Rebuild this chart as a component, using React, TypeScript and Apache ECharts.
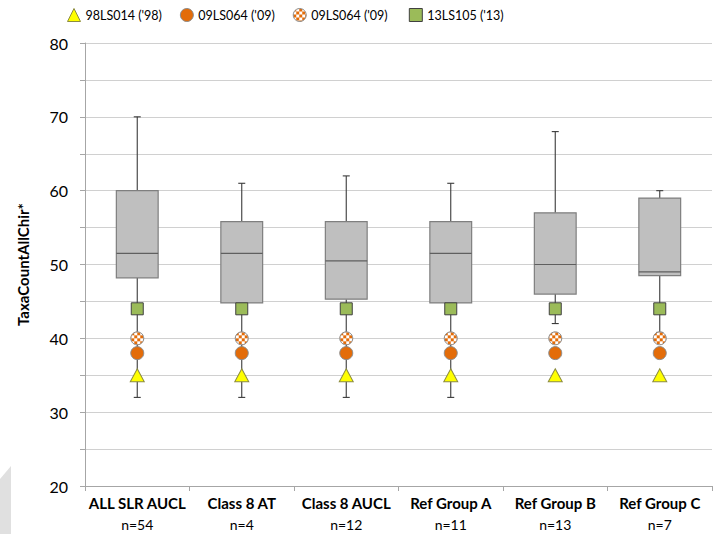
import React, { useEffect, useRef } from "react";
import * as echarts from "echarts";

const categories = ["ALL SLR AUCL", "Class 8 AT", "Class 8 AUCL", "Ref Group A", "Ref Group B", "Ref Group C"];
const counts = ["n=54", "n=4", "n=12", "n=11", "n=13", "n=7"];
const whiskerLow = [32, 32, 32, 32, 42, 40.8];
const q1 = [48.2, 44.8, 45.3, 44.8, 46, 48.5];
const median = [51.5, 51.5, 50.5, 51.5, 50, 49];
const q3 = [60, 55.8, 55.8, 55.8, 57, 59];
const whiskerHigh = [70, 61, 62, 61, 68, 60];
const site98 = [35, 35, 35, 35, 35, 35];
const site09 = [38, 38, 38, 38, 38, 38];
const site09b = [40, 40, 40, 40, 40, 40];
const site13 = [44, 44, 44, 44, 44, 44];
const legendNames = ["98LS014 ('98)", "09LS064 ('09)", "09LS064 ('09) ", "13LS105 ('13)"];
const yTicks = [20, 30, 40, 50, 60, 70, 80];

const FONT = "Lato, 'Noto Sans', sans-serif";

export default function App() {
  const ref = useRef<HTMLDivElement>(null);
  useEffect(() => {
    if (!ref.current) return;
    const chart = echarts.init(ref.current, undefined, { renderer: "svg" });

    const makeCanvas = () => {
      const cv = document.createElement("canvas");
      cv.width = 6;
      cv.height = 6;
      const ctx = cv.getContext("2d")!;
      ctx.fillStyle = "#ffffff";
      ctx.fillRect(0, 0, 6, 6);
      ctx.fillStyle = "#e36c09";
      ctx.fillRect(0, 0, 3, 3);
      ctx.fillRect(3, 3, 3, 3);
      return cv;
    };
    const symScale = 1 / 6.5;
    const patternSym: any = { image: makeCanvas(), repeat: "repeat", imageWidth: 6, imageHeight: 6, scaleX: symScale, scaleY: symScale };
    const patternLegend: any = { image: makeCanvas(), repeat: "repeat", imageWidth: 6, imageHeight: 6 };

    const boxData = categories.map((c, i) => [i, whiskerLow[i], q1[i], median[i], q3[i], whiskerHigh[i]]);

    const renderItem = (params: any, api: any) => {
      const idx = api.value(0);
      const lo = api.coord([idx, api.value(1)]);
      const b1 = api.coord([idx, api.value(2)]);
      const md = api.coord([idx, api.value(3)]);
      const b3 = api.coord([idx, api.value(4)]);
      const hi = api.coord([idx, api.value(5)]);
      const band = api.size([1, 0])[0];
      const w = band * 0.4;
      const x = lo[0];
      const cap = 3.5;
      const wl = { stroke: "#3a3a3a", lineWidth: 1.1 };
      return {
        type: "group",
        children: [
          { type: "line", shape: { x1: x, y1: b1[1], x2: x, y2: lo[1] }, style: wl },
          { type: "line", shape: { x1: x - cap, y1: lo[1], x2: x + cap, y2: lo[1] }, style: wl },
          { type: "line", shape: { x1: x, y1: b3[1], x2: x, y2: hi[1] }, style: wl },
          { type: "line", shape: { x1: x - cap, y1: hi[1], x2: x + cap, y2: hi[1] }, style: wl },
          {
            type: "rect",
            shape: { x: x - w / 2, y: b3[1], width: w, height: b1[1] - b3[1] },
            style: { fill: "#bfbfbf", stroke: "#7f7f7f", lineWidth: 1.2 },
          },
          { type: "line", shape: { x1: x - w / 2, y1: md[1], x2: x + w / 2, y2: md[1] }, style: { stroke: "#5f5f5f", lineWidth: 1.2 } },
        ],
      };
    };

    const scatter = (name: string, vals: number[], symbol: string, color: any, border: string, size: number | number[]) => ({
      type: "scatter",
      name,
      symbol,
      symbolSize: size,
      z: 5,
      itemStyle: { color, borderColor: border, borderWidth: 1, opacity: 1 },
      data: vals.map((v, i) => [i, v]),
    });

    chart.setOption({
      animation: false,
      textStyle: { fontFamily: FONT },
      legend: {
        top: 3,
        left: 62,
        itemWidth: 13,
        itemHeight: 13,
        itemGap: 18,
        textStyle: { fontFamily: FONT, fontSize: 12.5, color: "#000" },
        data: [
          { name: legendNames[0], icon: "triangle", itemStyle: { color: "#ffff00", borderColor: "#8c8c40", borderWidth: 1 } },
          { name: legendNames[1], icon: "circle", itemStyle: { color: "#e36c09", borderColor: "#8c8c8c", borderWidth: 1 } },
          { name: legendNames[2], icon: "circle", itemStyle: { color: patternLegend, borderColor: "#8c8c8c", borderWidth: 1 } },
          { name: legendNames[3], icon: "rect", itemStyle: { color: "#9bbb59", borderColor: "#404040", borderWidth: 1 } },
        ],
      },
      grid: { left: 85, right: 8, top: 43, bottom: 48 },
      xAxis: {
        type: "category",
        data: categories,
        boundaryGap: true,
        axisLine: { lineStyle: { color: "#a6a6a6" } },
        axisTick: { show: true, length: 5, lineStyle: { color: "#a6a6a6" } },
        axisLabel: {
          margin: 6,
          interval: 0,
          formatter: (v: string) => {
            const i = categories.indexOf(v);
            return `{b|${v}}\n{n|${counts[i]}}`;
          },
          rich: {
            b: { fontFamily: FONT, fontWeight: "bold", fontSize: 15, color: "#000", lineHeight: 22 },
            n: { fontFamily: FONT, fontSize: 14, color: "#000", lineHeight: 21 },
          },
        },
      },
      yAxis: {
        type: "value",
        min: 20,
        max: 80,
        interval: 5,
        name: "TaxaCountAllChir*",
        nameLocation: "middle",
        nameGap: 55,
        nameTextStyle: { fontFamily: FONT, fontWeight: "bold", fontSize: 15, color: "#000" },
        axisLine: { show: true, lineStyle: { color: "#a6a6a6" } },
        axisTick: { show: true, length: 5, lineStyle: { color: "#a6a6a6" } },
        axisLabel: {
          margin: 17,
          fontFamily: FONT,
          fontSize: 16,
          color: "#000",
          formatter: (v: number) => (yTicks.indexOf(v) >= 0 ? String(v) : ""),
        },
        splitLine: { show: true, lineStyle: { color: "#d0d0d0", width: 1.2 } },
      },
      series: [
        {
          type: "custom",
          name: "box",
          renderItem,
          encode: { x: 0, y: [1, 2, 3, 4, 5] },
          data: boxData,
          z: 2,
        },
        scatter(legendNames[0], site98, "triangle", "#ffff00", "#8c8c40", [14, 13]),
        scatter(legendNames[1], site09, "circle", "#e36c09", "#8c8c8c", 13),
        scatter(legendNames[2], site09b, "circle", patternSym, "#8c8c8c", 13),
        scatter(legendNames[3], site13, "rect", "#9bbb59", "#404040", 12),
      ],
      graphic: [
        {
          type: "polygon",
          shape: { points: [[0, 479], [11, 466], [11, 534], [0, 534]] },
          style: { fill: "#e0e0e0" },
          z: -1,
        },
      ],
    });
    return () => chart.dispose();
  }, []);
  return <div ref={ref} style={{ position: "fixed", left: 0, top: 0, width: 720, height: 534, background: "#fff" }} />;
}
